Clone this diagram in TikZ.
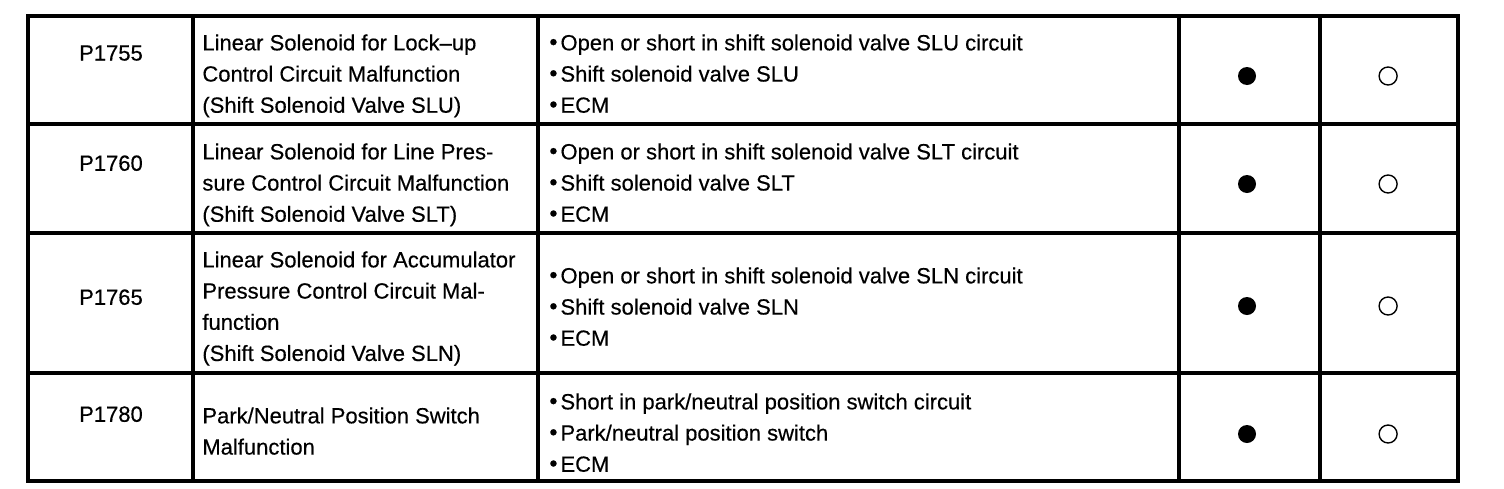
\documentclass[tikz,border=0pt]{standalone}
\usepackage{fontspec}
\setmainfont{Liberation Sans}
\newfontfamily\scanfont{Liberation Sans}[FakeBold=0.4]
\usetikzlibrary{positioning}
\tikzstyle{code} = [anchor=north, inner sep=0pt, font=\scanfont\fontsize{11}{15.6}\selectfont]
\tikzstyle{desc} = [anchor=north west, inner sep=0pt, align=left, font=\scanfont\fontsize{11}{15.6}\selectfont]
\tikzstyle{fullmark} = [circle, fill=black, minimum size=9pt, inner sep=0pt]
\tikzstyle{openmark} = [circle, draw=black, line width=0.7pt, minimum size=9pt, inner sep=0pt]
\tikzstyle{rule} = [line width=1.6pt]
\newcommand{\bul}{\raisebox{0.05ex}{\scalebox{1.05}{\textbullet}}\hspace{1.5pt}}

\begin{document}
\begin{tikzpicture}[x=0.5pt, y=-0.5pt]
        \useasboundingbox (0,0) rectangle (1504,488);

        % table rules
        \draw [rule, line width=2pt] (28,16) rectangle (1458,481);
        \draw [rule] (28,124) -- (1458,124);
        \draw [rule] (28,233) -- (1458,233);
        \draw [rule] (28,373) -- (1458,373);
        \draw [rule] (193,16) -- (193,481);
        \draw [rule] (538,16) -- (538,481);
        \draw [rule] (1179,16) -- (1179,481);
        \draw [rule] (1320,16) -- (1320,481);

        % P1755
        \node (code1) [code] at (111,45) {P1755};
        \node (desc1) [desc] at (202,34) {Linear Solenoid for Lock–up\\Control Circuit Malfunction\\(Shift Solenoid Valve SLU)};
        \node (cause1) [desc] at (549,34) {\bul Open or short in shift solenoid valve SLU circuit\\\bul Shift solenoid valve SLU\\\bul ECM};
        \node (full1) [fullmark] at (1247,76) {};
        \node (open1) [openmark, right=61pt of full1] {};

        % P1760
        \node (code2) [code] at (111,155) {P1760};
        \node (desc2) [desc] at (202,143) {Linear Solenoid for Line Pres-\\sure Control Circuit Malfunction\\(Shift Solenoid Valve SLT)};
        \node (cause2) [desc] at (549,143) {\bul Open or short in shift solenoid valve SLT circuit\\\bul Shift solenoid valve SLT\\\bul ECM};
        \node (full2) [fullmark] at (1247,184) {};
        \node (open2) [openmark, right=61pt of full2] {};

        % P1765
        \node (code3) [code] at (111,289) {P1765};
        \node (desc3) [desc] at (202,251) {Linear Solenoid for Accumulator\\Pressure Control Circuit Mal-\\function\\(Shift Solenoid Valve SLN)};
        \node (cause3) [desc] at (549,267) {\bul Open or short in shift solenoid valve SLN circuit\\\bul Shift solenoid valve SLN\\\bul ECM};
        \node (full3) [fullmark] at (1247,306) {};
        \node (open3) [openmark, right=61pt of full3] {};

        % P1780
        \node (code4) [code] at (111,406) {P1780};
        \node (desc4) [desc] at (202,407) {Park/Neutral Position Switch\\Malfunction};
        \node (cause4) [desc] at (549,393) {\bul Short in park/neutral position switch circuit\\\bul Park/neutral position switch\\\bul ECM};
        \node (full4) [fullmark] at (1247,434) {};
        \node (open4) [openmark, right=61pt of full4] {};

\end{tikzpicture}
\end{document}
